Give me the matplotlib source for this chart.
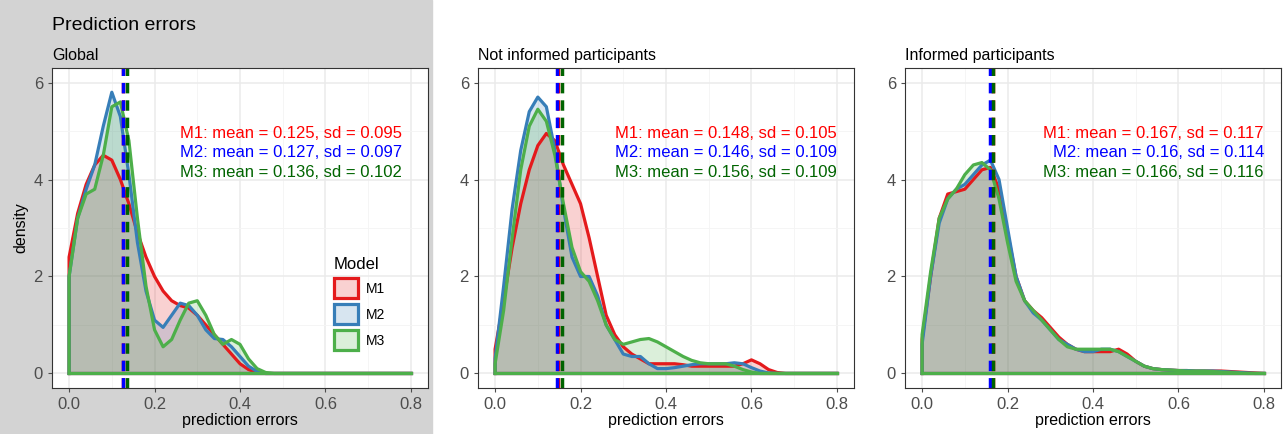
import numpy as np
import matplotlib.pyplot as plt
from matplotlib.patches import Rectangle, Patch
from matplotlib.colors import to_rgb

plt.rcParams['font.family'] = ['Liberation Sans', 'DejaVu Sans']

# density curves, x = 0, 0.02, 0.04, ... (zero afterwards)
glob_m1 = [2.4,3.3,3.9,4.3,4.5,4.4,4.0,3.5,2.9,2.4,2.0,1.7,1.5,1.4,1.35,1.2,1.0,0.8,0.6,0.4,0.2,0.08,0.02]
glob_m2 = [2.0,3.2,3.8,4.3,5.1,5.8,5.3,4.1,2.7,1.7,1.1,0.95,1.2,1.45,1.4,1.2,0.9,0.72,0.7,0.55,0.35,0.15,0.04]
glob_m3 = [2.0,3.2,3.7,3.8,4.5,5.5,5.6,4.8,3.2,1.8,0.9,0.55,0.7,1.1,1.45,1.5,1.2,0.8,0.6,0.7,0.6,0.3,0.1,0.02]

noti_m1 = [0.5,1.5,2.6,3.5,4.2,4.7,4.95,4.8,4.3,3.9,3.5,2.8,2.0,1.2,0.8,0.55,0.4,0.3,0.2,0.2,0.2,0.2,0.18,0.15,
           0.15,0.15,0.15,0.15,0.15,0.2,0.28,0.2,0.08,0.02]
noti_m2 = [0.3,1.8,3.4,4.6,5.4,5.7,5.5,4.6,3.4,2.4,2.0,2.0,1.6,1.0,0.7,0.4,0.35,0.35,0.2,0.1,0.1,0.12,0.15,0.18,
           0.2,0.2,0.2,0.2,0.22,0.2,0.12,0.05,0.01]
noti_m3 = [0.2,1.3,2.8,4.2,5.1,5.45,5.2,4.5,3.5,2.6,2.1,1.9,1.5,1.0,0.7,0.6,0.65,0.7,0.72,0.65,0.55,0.45,0.35,0.27,
           0.22,0.2,0.2,0.2,0.15,0.08,0.03]

inf_m1 = [0.7,2.0,3.2,3.7,3.75,3.8,4.0,4.2,4.25,3.8,2.9,2.0,1.5,1.3,1.15,0.95,0.75,0.6,0.5,0.45,0.45,0.45,0.45,0.5,
          0.4,0.25,0.15,0.1,0.08,0.07,0.06,0.06,0.05,0.05,0.05,0.05,0.04,0.03,0.02,0.01]
inf_m2 = [0.6,2.0,3.1,3.6,3.8,3.9,4.1,4.3,4.4,4.0,3.0,2.0,1.5,1.25,1.1,0.9,0.7,0.6,0.5,0.45,0.45,0.5,0.5,0.45,
          0.35,0.25,0.15,0.1,0.08,0.07,0.06,0.06,0.05,0.05,0.05,0.04,0.03,0.02,0.01]
inf_m3 = [0.8,2.1,3.2,3.6,3.8,4.1,4.3,4.35,4.2,3.6,2.7,1.9,1.5,1.3,1.1,0.9,0.7,0.55,0.5,0.5,0.5,0.5,0.5,0.45,
          0.35,0.25,0.15,0.1,0.08,0.07,0.06,0.05,0.05,0.05,0.04,0.03,0.02,0.01]

means = [[0.125, 0.127, 0.136], [0.148, 0.146, 0.156], [0.167, 0.16, 0.166]]
sds = [[0.095, 0.097, 0.102], [0.105, 0.109, 0.109], [0.117, 0.114, 0.116]]
titles = ["Global", "Not informed participants", "Informed participants"]
models = ["M1", "M2", "M3"]
panels = [[glob_m1, glob_m2, glob_m3], [noti_m1, noti_m2, noti_m3], [inf_m1, inf_m2, inf_m3]]

line_cols = ["#E41A1C", "#377EB8", "#4DAF4A"]
text_cols = ["red", "blue", "darkgreen"]

W, H = 1288, 434
fig = plt.figure(figsize=(W/100, H/100), dpi=100)
fig.patches.append(Rectangle((0, 0), 432/W, 1, transform=fig.transFigure, color="#D3D3D3", zorder=-10))
fig.text(52/W, 1-25/H, "Prediction errors", fontsize=14, va="center")

lefts = [52, 478, 905]
xgrid = np.round(np.arange(0, 0.8001, 0.02), 2)
for p in range(3):
    ax = fig.add_axes([lefts[p]/W, 1-388/H, 376/W, 320/H])
    ax.set_facecolor("white")
    for m in range(3):
        d = np.zeros(len(xgrid))
        d[:len(panels[p][m])] = panels[p][m]
        ax.fill_between(xgrid, 0, d, color=line_cols[m], alpha=0.2, lw=0)
        ax.plot(np.r_[0, xgrid], np.r_[0, d], color=line_cols[m], lw=2.3, label=models[m])
        ax.plot([0, 0.8], [0, 0], color=line_cols[m], lw=2.3)
    for m in range(3):
        ax.axvline(means[p][m], color=text_cols[m], lw=2.5, ls=(0, (3, 2)))
    for m in range(3):
        ax.text(0.8 if p else 0.78, 4.95 - 0.4*m,
                f"M{m+1}: mean = {means[p][m]:g}, sd = {sds[p][m]:g}",
                color=text_cols[m], ha="right", va="center", fontsize=12)
    ax.set_xlim(-0.04, 0.84)
    ax.set_ylim(-0.3, 6.3)
    ax.set_xticks([0, 0.2, 0.4, 0.6, 0.8])
    ax.set_xticklabels(["0.0", "0.2", "0.4", "0.6", "0.8"])
    ax.set_yticks([0, 2, 4, 6])
    ax.set_yticks([1, 3, 5], minor=True)
    ax.set_xticks([0.1, 0.3, 0.5, 0.7], minor=True)
    ax.grid(True, which="major", color="#EBEBEB", lw=1.1)
    ax.grid(True, which="minor", color="#F4F4F4", lw=0.6)
    ax.set_axisbelow(True)
    ax.tick_params(which="minor", length=0)
    ax.tick_params(labelsize=12, colors="#4D4D4D", length=3)
    for s in ax.spines.values():
        s.set_color("#333333")
    ax.set_xlabel("prediction errors", fontsize=11.5, labelpad=1)
    ax.set_title(titles[p], loc="left", fontsize=11.5, pad=6)
    if p == 0:
        ax.set_ylabel("density", fontsize=11.5)
        handles = [Patch(facecolor=(*to_rgb(line_cols[m]), 0.2), edgecolor=line_cols[m], lw=2.3) for m in range(3)]
        leg = ax.legend(handles, models, title="Model", loc="lower right", bbox_to_anchor=(0.92, 0.08),
                        frameon=False, fontsize=10, title_fontsize=12, handlelength=1.7, handleheight=1.8,
                        labelspacing=0.45, handletextpad=0.6)
        leg._legend_box.align = "left"

fig.savefig("out.png", dpi=100)
